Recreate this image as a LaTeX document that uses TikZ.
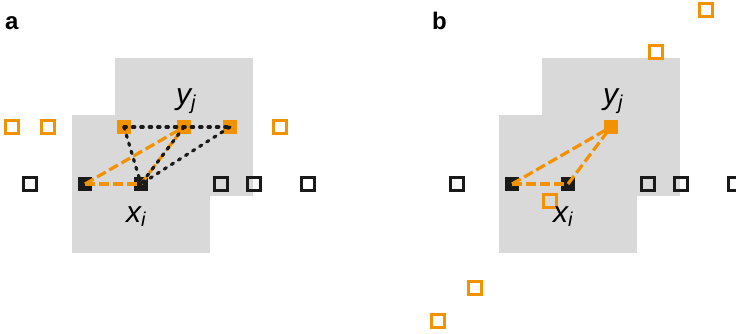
\documentclass[tikz,border=0pt]{standalone}
\usepackage{fontspec}
\setmainfont{Liberation Sans}
\setsansfont{Liberation Sans}
\definecolor{ora}{HTML}{F39200}
\definecolor{blk}{HTML}{1A1A1A}
\definecolor{greybg}{HTML}{D9D9D9}
\begin{document}
\begin{tikzpicture}[x=1pt,y=-1pt,
  sq/.style={rectangle,inner sep=0pt,outer sep=0pt},
  ofill/.style={sq,fill=ora,minimum size=14pt},
  kfill/.style={sq,fill=blk,minimum size=14pt},
  ohollow/.style={sq,draw=ora,line width=3.2pt,minimum size=13pt},
  khollow/.style={sq,draw=blk,line width=3.2pt,minimum size=13pt},
  kdash/.style={draw=blk,line width=3.2pt,line cap=round,dash pattern=on 2.4pt off 6pt},
  odash/.style={draw=ora,line width=3.2pt,dash pattern=on 10pt off 4pt},
  panel/.style={font=\fontsize{24}{24}\selectfont\bfseries,anchor=base west,inner sep=0pt},
  var/.style={font=\fontsize{30}{30}\selectfont\itshape,anchor=base west,inner sep=0pt}]
\useasboundingbox (0,0) rectangle (736,334);

% ---------------- panel a ----------------
\node[panel] (la) at (5,30) {a};
\fill[greybg] (115,58) rectangle (253,196);
\fill[greybg] (72,115) rectangle (210,253);

\node[ohollow] (ah1) at (12,127) {};
\node[ohollow] (ah2) at (48,127) {};
\node[ohollow] (ah3) at (280,127) {};
\node[ofill] (ao1) at (124,127) {};
\node[ofill] (ao2) at (184,127) {};
\node[ofill] (ao3) at (230,127) {};

\node[khollow] (akh1) at (30,184) {};
\node[khollow] (akh2) at (221,184) {};
\node[khollow] (akh3) at (254,184) {};
\node[khollow] (akh4) at (308,184) {};
\node[kfill] (ak1) at (85,184) {};
\node[kfill] (ak2) at (141,184) {};

\draw[odash] (ak1.center) -- (ao2.center);
\draw[odash] (ak1.center) -- (ak2.center);
\draw[odash] (ak2.center) -- (ao2.center);
\draw[kdash] (ao1.center) -- (ao2.center) -- (ao3.center);
\draw[kdash] (ao1.center) -- (ak2.center);
\draw[kdash] (ao2.center) -- (ak2.center);
\draw[kdash] (ao3.center) -- (ak2.center);

\node[var] (ay) at (176,105) {y\raisebox{-5pt}{\fontsize{20}{20}\selectfont j}};
\node[var] (ax) at (126,222) {x\raisebox{-4pt}{\fontsize{20}{20}\selectfont i}};

% ---------------- panel b ----------------
\node[panel] (lb) at (432,30) {b};
\fill[greybg] (542,58) rectangle (680,196);
\fill[greybg] (499,115) rectangle (637,253);

\node[ohollow] (bh1) at (706,10) {};
\node[ohollow] (bh2) at (656,52) {};
\node[ohollow] (bh3) at (550,201) {};
\node[ohollow] (bh4) at (475,288) {};
\node[ohollow] (bh5) at (438,321) {};
\node[ofill] (bo) at (611,127) {};

\node[khollow] (bkh1) at (457,184) {};
\node[khollow] (bkh2) at (648,184) {};
\node[khollow] (bkh3) at (681,184) {};
\node[khollow] (bkh4) at (735,184) {};
\node[kfill] (bk1) at (512,184) {};
\node[kfill] (bk2) at (568,184) {};

\draw[odash] (bk1.center) -- (bo.center);
\draw[odash] (bk1.center) -- (bk2.center);
\draw[odash] (bk2.center) -- (bo.center);

\node[var] (by) at (603,105) {y\raisebox{-5pt}{\fontsize{20}{20}\selectfont j}};
\node[var] (bx) at (553,222) {x\raisebox{-4pt}{\fontsize{20}{20}\selectfont i}};
\end{tikzpicture}
\end{document}
